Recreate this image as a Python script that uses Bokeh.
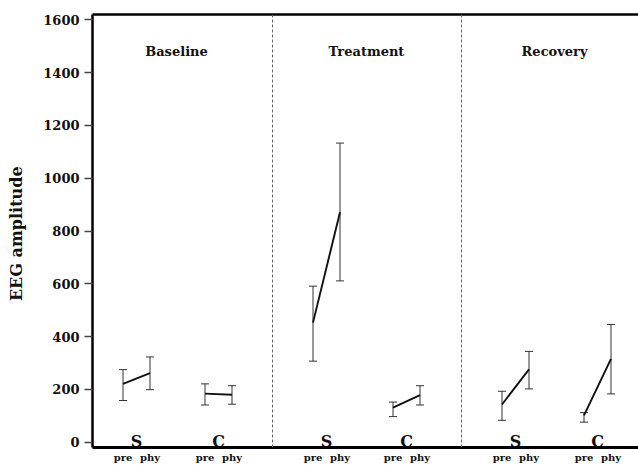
from bokeh.plotting import figure
from bokeh.models import Range1d, LinearAxis, Span, Whisker, ColumnDataSource, FixedTicker
from bokeh.core.properties import value
from bokeh.embed import file_html
from bokeh.resources import INLINE

# ---- data ----
phases = ["Baseline", "Treatment", "Recovery"]
groups = ["S", "C", "S", "C", "S", "C"]
conditions = ["pre", "phy"]
# means (pre, phy) per group
mean_pre = [221, 184, 453, 131, 143, 102]
mean_phy = [262, 180, 871, 178, 276, 316]
upper_pre = [275, 221, 591, 152, 193, 112]
lower_pre = [158, 141, 307, 97, 83, 76]
upper_phy = [323, 214, 1133, 214, 344, 446]
lower_phy = [199, 144, 611, 141, 202, 183]
y_ticks = [0, 200, 400, 600, 800, 1000, 1200, 1400, 1600]

# ---- layout positions (horizontal units = px in frame) ----
group_centers = [44, 126, 234, 314, 423, 505]
half_gap = 13.5
phase_centers = [84, 274, 462]
dividers = [180, 369]

FONT = "DejaVu Serif"

p = figure(width=638, height=465, output_backend="svg", toolbar_location=None,
           x_range=Range1d(0, 546), y_range=Range1d(-20, 1620),
           min_border_left=92, min_border_right=0, min_border_top=14, min_border_bottom=0)
p.outline_line_color = None
p.grid.visible = False
p.background_fill_color = "white"

# y axis
p.yaxis.ticker = FixedTicker(ticks=y_ticks)
p.yaxis.axis_line_width = 2.5
p.yaxis.axis_line_color = "black"
p.yaxis.major_tick_line_color = "#444"
p.yaxis.major_tick_line_width = 1.5
p.yaxis.major_tick_out = 8
p.yaxis.major_tick_in = 0
p.yaxis.minor_tick_line_color = None
p.yaxis.major_label_text_font = FONT
p.yaxis.major_label_text_font_style = "bold"
p.yaxis.major_label_text_font_size = "13px"
p.yaxis.major_label_text_color = "#111"
p.yaxis.major_label_standoff = 5
p.yaxis.axis_label = "EEG  amplitude"
p.yaxis.axis_label_text_font = FONT
p.yaxis.axis_label_text_font_style = "bold"
p.yaxis.axis_label_text_font_size = "16px"
p.yaxis.axis_label_text_color = "#111"
p.yaxis.axis_label_standoff = 14

# x positions for pre/phy
x_pre = [c - half_gap for c in group_centers]
x_phy = [c + half_gap for c in group_centers]
xticks = []
overrides = {}
for a, b in zip(x_pre, x_phy):
    xticks += [a, b]
    overrides[a] = conditions[0]
    overrides[b] = conditions[1]

p.xaxis.ticker = FixedTicker(ticks=xticks)
p.xaxis.major_label_overrides = overrides
p.xaxis.axis_line_width = 3
p.xaxis.axis_line_color = "black"
p.xaxis.major_tick_line_color = None
p.xaxis.major_tick_out = 0
p.xaxis.major_tick_in = 0
p.xaxis.minor_tick_line_color = None
p.xaxis.minor_tick_out = 0
p.xaxis.major_label_text_font = FONT
p.xaxis.major_label_text_font_style = "bold"
p.xaxis.major_label_text_font_size = "10px"
p.xaxis.major_label_text_color = "#111"
p.xaxis.major_label_standoff = 4

top = LinearAxis(ticker=FixedTicker(ticks=[]), major_label_text_font_size="0px",
                 axis_line_width=2.5, axis_line_color="black",
                 major_tick_line_color=None, minor_tick_line_color=None)
p.add_layout(top, "above")

for d in dividers:
    p.add_layout(Span(location=d, dimension="height", line_color="#666",
                      line_dash="3 2", line_width=1))

# error bars
xs = x_pre + x_phy
ups = upper_pre + upper_phy
los = lower_pre + lower_phy
src = ColumnDataSource(dict(x=xs, upper=ups, lower=los))
w = Whisker(source=src, base="x", upper="upper", lower="lower", dimension="height",
            line_color="#333", line_width=1)
w.upper_head.size = 8
w.lower_head.size = 8
w.upper_head.line_color = "#333"
w.lower_head.line_color = "#333"
p.add_layout(w)

# mean lines
p.segment(x0=x_pre, y0=mean_pre, x1=x_phy, y1=mean_phy, line_color="#111", line_width=1.9)

# group labels
p.text(x=group_centers, y=[2] * len(groups), text=groups, text_font=value(FONT),
       text_font_style="bold", text_font_size="16px", text_align="center",
       text_baseline="alphabetic", text_color="#111")

# phase titles
p.text(x=phase_centers, y=[1480] * 3, text=phases, text_font=value(FONT),
       text_font_style="bold", text_font_size="13px", text_align="center",
       text_baseline="middle", text_color="#111")

open("out.html", "w").write(file_html(p, INLINE))
